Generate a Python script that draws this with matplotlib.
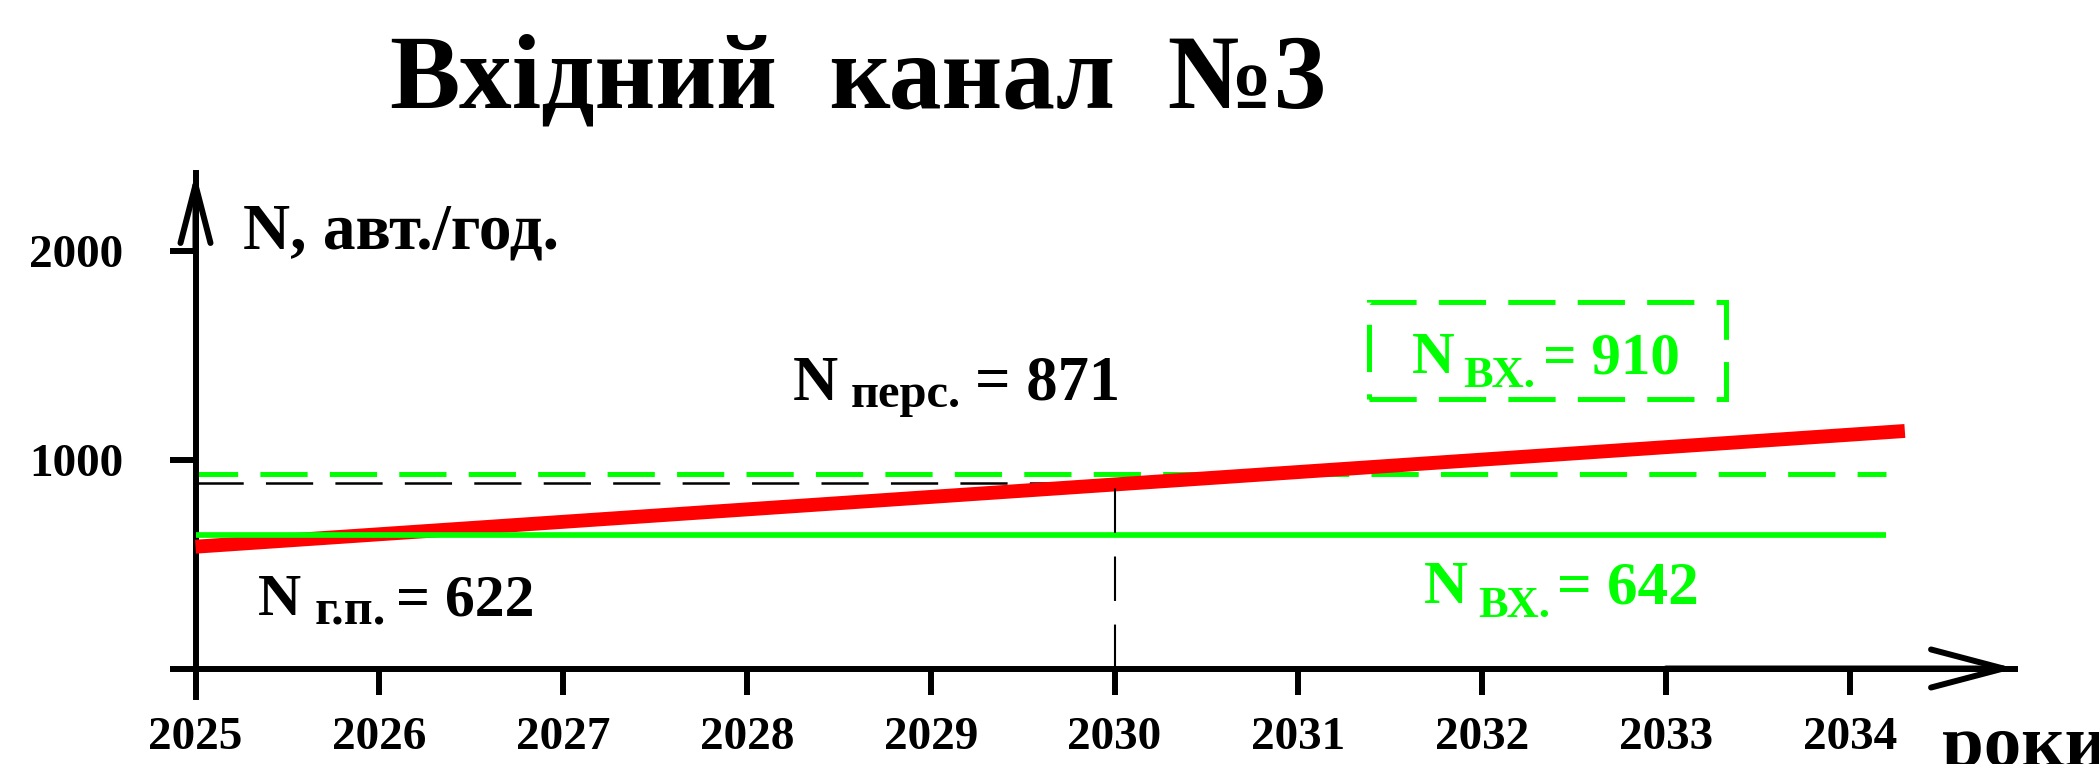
import matplotlib
matplotlib.use("Agg")
import matplotlib.pyplot as plt
from matplotlib.patches import Rectangle

plt.rcParams['font.family'] = ['Liberation Serif', 'DejaVu Serif']
plt.rcParams['font.weight'] = 'bold'
plt.rcParams['lines.scale_dashes'] = False

# ---- data ----
years = [2025, 2026, 2027, 2028, 2029, 2030, 2031, 2032, 2033, 2034]
year_labels = [str(y) for y in years]
ytick_vals = [0, 1000, 2000]
ytick_labels = ['', '1000', '2000']

red_years = [2025, 2034.3]          # growth of N (red line)
red_vals = [583, 1137]

lines_start = 2025
lines_end = 2034.2
n_vx_now_level = 640                # solid green, "N вх. = 642"
n_vx_future_level = 933             # dashed green, "N вх. = 910"
n_pers_level = 887                  # thin black dashed, "N перс. = 871"
pers_year = 2030

title = 'Вхідний  канал  №3'
ylabel = 'N, авт./год.'
xlabel = 'роки'

# ---- geometry of the original picture (pixels) ----
W, H = 2099, 764
X0_PX, PX_YEAR = 195.5, 183.8
Y0_PX, PX_UNIT = 668.5, 0.2089

GREEN = '#00ff00'
RED = '#ff0000'

fig = plt.figure(figsize=(W / 100, H / 100), dpi=100)
ax = fig.add_axes([0, 0, 1, 1])
ax.set_xlim(2025 - X0_PX / PX_YEAR, 2025 + (W - X0_PX) / PX_YEAR)
ax.set_ylim(-(H - Y0_PX) / PX_UNIT, Y0_PX / PX_UNIT)


def dx(px):
    return 2025 + (px - X0_PX) / PX_YEAR


def dy(py):
    return (Y0_PX - py) / PX_UNIT


def fpx(x, y):
    return x / W, 1 - y / H


# axes with arrows
for s in ['top', 'right']:
    ax.spines[s].set_visible(False)
ax.spines['left'].set_position(('data', 2025))
ax.spines['bottom'].set_position(('data', 0))
ax.spines['left'].set_bounds(dy(697), dy(173))
ax.spines['bottom'].set_bounds(2025, dx(2015))
for s in ['left', 'bottom']:
    ax.spines[s].set_linewidth(4.3)

ax.annotate('', xy=(2025, dy(173)), xytext=(2025, 2000),
            arrowprops=dict(arrowstyle='->,head_length=41.8,head_width=10.8',
                            lw=4.3, color='black', shrinkA=0, shrinkB=0,
                            mutation_scale=1))
ax.annotate('', xy=(dx(2015), 0), xytext=(2033, 0),
            arrowprops=dict(arrowstyle='->,head_length=52,head_width=13.7',
                            lw=4.3, color='black', shrinkA=0, shrinkB=0,
                            mutation_scale=1))

ax.set_xticks(years)
ax.set_xticklabels(year_labels)
ax.set_yticks(ytick_vals)
ax.set_yticklabels(ytick_labels)
ax.tick_params(axis='x', direction='out', length=19, width=4.3, pad=16,
               labelsize=34)
ax.tick_params(axis='y', direction='out', length=19, width=4.3, pad=33,
               labelsize=34)

# lines
ax.hlines(n_pers_level, lines_start, pers_year, color='black', lw=1.8,
          linestyles=[(0, (34, 16))], zorder=1)
ax.hlines(n_vx_future_level, lines_start, lines_end, color=GREEN, lw=3.6,
          linestyles=[(4, (34, 16))], zorder=2)
ax.plot(red_years, red_vals, color=RED, lw=10, solid_capstyle='butt',
        zorder=3)
ax.hlines(n_vx_now_level, lines_start, lines_end, color=GREEN, lw=4.1,
          zorder=4)
ax.vlines(pers_year, 0, n_pers_level, color='black', lw=1.5,
          linestyles=[(0, (32, 17))], zorder=5)

# dashed frame around the "N вх. = 910" label
ax.add_patch(Rectangle((dx(1369), dy(399)), dx(1726) - dx(1369),
                       dy(302) - dy(399), fill=False, edgecolor=GREEN,
                       lw=3.6, linestyle=(0, (34, 16)), zorder=6))

# texts
fig.text(*fpx(390, 107), title, fontsize=76, va='baseline', ha='left')
fig.text(*fpx(243, 248), ylabel, fontsize=47, va='baseline', ha='left')
fig.text(*fpx(1942, 766), xlabel, fontsize=54, va='baseline', ha='left')


def sub_label(x, y, main, sub, rest, s_main, s_sub, drop, gap1, gap2, color):
    fx, fy = fpx(x, y)
    t1 = fig.text(fx, fy, main, fontsize=s_main, color=color,
                  va='baseline', ha='left')
    t2 = ax.annotate(sub, xy=(1, fy), xycoords=(t1, 'figure fraction'),
                     xytext=(gap1, -drop), textcoords='offset pixels',
                     fontsize=s_sub, color=color, va='baseline', ha='left',
                     annotation_clip=False)
    ax.annotate(rest, xy=(1, fy), xycoords=(t2, 'figure fraction'),
                xytext=(gap2, 0), textcoords='offset pixels',
                fontsize=s_main, color=color, va='baseline', ha='left',
                annotation_clip=False)


sub_label(793, 400, 'N', 'перс.', '= 871', 45, 35, 7, 13, 14, 'black')
sub_label(258, 615, 'N', 'г.п.', '= 622', 43, 36, 8, 13, 10, 'black')
sub_label(1412, 373, 'N', 'ВХ.', '= 910', 42.5, 32, 14, 9, 7, GREEN)
sub_label(1424, 603, 'N', 'ВХ.', '= 642', 44, 32, 14, 10, 7, GREEN)

fig.savefig('out.png', dpi=100)
